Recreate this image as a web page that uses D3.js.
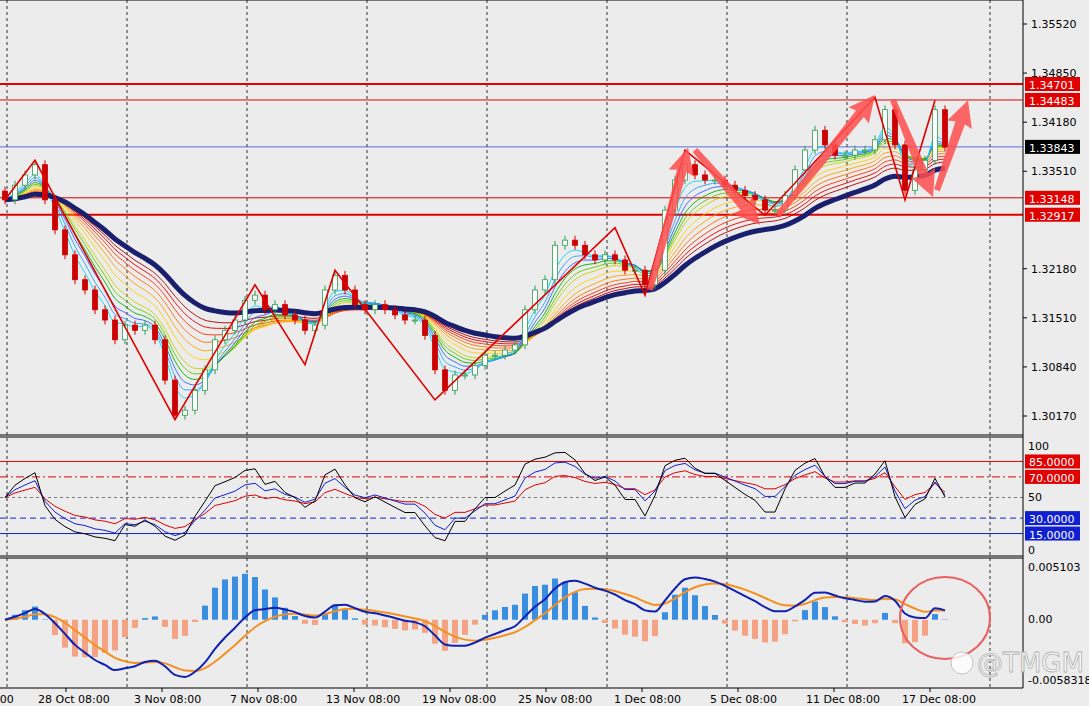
<!DOCTYPE html>
<html>
<head>
<meta charset="utf-8">
<script src="https://cdn.jsdelivr.net/npm/d3@7"></script>
<style>
  body { margin: 0; background: #ececec; }
  svg { display: block; font-family: "DejaVu Sans", sans-serif; }
</style>
</head>
<body>
<div class="container"></div>
<script>
// closing prices, one per bar
const closes = [
  1.3312, 1.3332, 1.3346, 1.3360, 1.3312, 1.3271, 1.3237, 1.3203, 1.3189, 1.3162,
  1.3148, 1.3121, 1.3141, 1.3134, 1.3141, 1.3121, 1.3066, 1.3018, 1.3025, 1.3052,
  1.3080, 1.3121, 1.3134, 1.3148, 1.3175, 1.3182, 1.3162, 1.3169, 1.3155, 1.3148,
  1.3134, 1.3141, 1.3189, 1.3209, 1.3189, 1.3169, 1.3162, 1.3169, 1.3162, 1.3155,
  1.3148, 1.3148, 1.3127, 1.3080, 1.3052, 1.3073, 1.3073, 1.3086, 1.3100, 1.3100,
  1.3107, 1.3114, 1.3162, 1.3189, 1.3203, 1.3250, 1.3257, 1.3250, 1.3237, 1.3230,
  1.3237, 1.3230, 1.3216, 1.3216, 1.3196, 1.3216, 1.3298, 1.3339, 1.3360, 1.3346,
  1.3339, 1.3339, 1.3332, 1.3325, 1.3318, 1.3312, 1.3298, 1.3298, 1.3318, 1.3353,
  1.3380, 1.3407, 1.3387, 1.3373, 1.3373, 1.3380, 1.3380, 1.3394, 1.3435, 1.3387,
  1.3325, 1.3353, 1.3366, 1.3435, 1.3384
];
const priceTicks = [1.35520, 1.34850, 1.34180, 1.33510, 1.32180, 1.31510, 1.30840, 1.30170];
const levels = [
  { v: 1.34701, w: 2, c: "#e00000", box: "#e00000" },
  { v: 1.34483, w: 1, c: "#e00000", box: "#e00000" },
  { v: 1.33843, w: 0.8, c: "#3050e0", box: "#000000" },
  { v: 1.33148, w: 1, c: "#e00000", box: "#e00000" },
  { v: 1.32917, w: 2, c: "#e00000", box: "#e00000" }
];
const zigzag = [[0,1.3312],[3,1.3366],[17,1.3012],[25,1.3196],[30,1.3087],[33,1.3216],[43,1.3039],
  [61,1.3274],[64,1.3182],[68,1.3380],[76,1.3291],[87,1.3452],[90,1.3312],[93,1.3448]];
const arrows = [[64.5,1.3189,68.3,1.3383],[69,1.3380,75.5,1.3278],[77.3,1.3291,87,1.3455],
  [88.8,1.3448,92.8,1.3316],[93.2,1.3325,96.3,1.3448]];
const gridBars = [0.2, 12.2, 24.2, 36.2, 48.2, 60.2, 72.2, 84.2, 98.5];
const timeBars = [-6.5, 3.1, 12.7, 22.3, 31.9, 41.5, 51.1, 60.7, 70.3, 79.9, 89.5];
const timeLabels = ["22 Oct 08:00","28 Oct 08:00","3 Nov 08:00","7 Nov 08:00","13 Nov 08:00","19 Nov 08:00",
  "25 Nov 08:00","1 Dec 08:00","5 Dec 08:00","11 Dec 08:00","17 Dec 08:00"];
const ribbonPeriods = [3, 4, 5, 6, 7, 8, 10, 12, 14, 16, 18, 20];
const ribbonColors = ["#00d8ff","#20a0ff","#3060ff","#00b000","#60c800","#c8d000","#ffd000","#ffa000","#ff7000","#ff3000","#e00000","#b00000"];
const rsiLevels = [{v:85,c:"#e00000",d:null},{v:70,c:"#e00000",d:"8,3,2,3"},{v:50,c:"#777",d:"3,3"},{v:30,c:"#1020d0",d:"6,4"},{v:15,c:"#1020d0",d:null}];

const W = 1089, H = 706, axisX = 1023;
const svg = d3.select(".container").append("svg").attr("width", W).attr("height", H);
svg.append("rect").attr("width", W).attr("height", H).attr("fill", "#ececec");

const x = d3.scaleLinear().domain([0, 101.8]).range([5, axisX]);
const y = d3.scaleLinear().domain([1.30170, 1.35520]).range([416, 24]);
const yR = d3.scaleLinear().domain([0, 100]).range([549, 446]);
const yM = d3.scaleLinear().domain([-0.005831, 0.005103]).range([680, 567]);

const ema = (arr, n) => { const k = 2 / (n + 1); let e = arr[0]; return arr.map(v => (e = v * k + e * (1 - k))); };
const rsi = (arr, n) => {
  let g = 0.0008, l = 0.0008;
  return arr.map((v, i) => {
    if (i === 0) return 50;
    const d = v - arr[i - 1];
    g = (g * (n - 1) + Math.max(d, 0)) / n;
    l = (l * (n - 1) + Math.max(-d, 0)) / n;
    return l === 0 ? 100 : 100 - 100 / (1 + g / l);
  });
};

[["main",0,435],["rsi",437,556],["macd",558,688]].forEach(([id,t,b]) => {
  svg.append("clipPath").attr("id","clip-"+id).append("rect").attr("x",0).attr("y",t).attr("width",axisX).attr("height",b-t);
});

// grid
gridBars.forEach(b => {
  svg.append("line").attr("x1",x(b)).attr("x2",x(b)).attr("y1",0).attr("y2",688)
    .attr("stroke","#000").attr("stroke-dasharray","3,3").attr("stroke-width",0.8);
});

const main = svg.append("g").attr("clip-path","url(#clip-main)");
levels.forEach(l => main.append("line").attr("x1",0).attr("x2",axisX).attr("y1",y(l.v)).attr("y2",y(l.v))
  .attr("stroke",l.c).attr("stroke-width",l.w));

// ribbon
const line = d3.line().x((d,i) => x(i)).y(d => y(d)).curve(d3.curveMonotoneX);
ribbonPeriods.slice().reverse().forEach((p, j) => {
  main.append("path").attr("d", line(ema(closes, p))).attr("fill","none")
    .attr("stroke", ribbonColors[ribbonPeriods.length - 1 - j]).attr("stroke-width",0.9);
});
main.append("path").attr("d", line(ema(closes, 24))).attr("fill","none").attr("stroke","#1a1f6e").attr("stroke-width",5);

// candles
closes.forEach((c, i) => {
  const o = i === 0 ? c + 0.0012 : closes[i - 1];
  const up = c >= o, hi = Math.max(o, c) + 0.0006, lo = Math.min(o, c) - 0.0006;
  const col = up ? "#2e9a50" : "#cc0000";
  main.append("line").attr("x1",x(i)).attr("x2",x(i)).attr("y1",y(hi)).attr("y2",y(lo)).attr("stroke",col);
  main.append("rect").attr("x",x(i)-2.5).attr("width",5).attr("y",y(Math.max(o,c)))
    .attr("height",Math.max(1,y(Math.min(o,c))-y(Math.max(o,c))))
    .attr("fill",up ? "#ffffff" : "#cc0000").attr("stroke",col).attr("stroke-width",0.8);
});

main.append("path").attr("d", d3.line().x(d => x(d[0])).y(d => y(d[1]))(zigzag))
  .attr("fill","none").attr("stroke","#e00000").attr("stroke-width",1.6);

// fat arrows
arrows.forEach(a => {
  const x1 = x(a[0]), y1 = y(a[1]), x2 = x(a[2]), y2 = y(a[3]);
  const ang = Math.atan2(y2 - y1, x2 - x1), len = Math.hypot(x2 - x1, y2 - y1);
  const pts = [[0,-3],[len-24,-5],[len-26,-13],[len,0],[len-26,13],[len-24,5],[0,3]];
  main.append("polygon").attr("points", pts.map(p => p.join(",")).join(" "))
    .attr("transform",`translate(${x1},${y1}) rotate(${ang*180/Math.PI})`)
    .attr("fill","#ff4d4d").attr("opacity",0.85);
});

// price axis
priceTicks.forEach(v => {
  svg.append("line").attr("x1",axisX).attr("x2",axisX+4).attr("y1",y(v)).attr("y2",y(v)).attr("stroke","#000");
  svg.append("text").attr("x",axisX+8).attr("y",y(v)+4).attr("font-size",11).text(v.toFixed(5));
});
levels.forEach(l => {
  svg.append("rect").attr("x",axisX+2).attr("y",y(l.v)-7).attr("width",55).attr("height",14).attr("fill",l.box);
  svg.append("text").attr("x",axisX+6).attr("y",y(l.v)+5).attr("font-size",11).attr("fill","#fff").text(l.v.toFixed(5));
});

// RSI
const rg = svg.append("g").attr("clip-path","url(#clip-rsi)");
rsiLevels.forEach(l => rg.append("line").attr("x1",0).attr("x2",axisX).attr("y1",yR(l.v)).attr("y2",yR(l.v))
  .attr("stroke",l.c).attr("stroke-width",1).attr("stroke-dasharray",l.d));
const rLine = d3.line().x((d,i) => x(i)).y(d => yR(d));
[[14,"#e00000"],[8,"#1020d0"],[5,"#000"]].forEach(([n,c]) =>
  rg.append("path").attr("d", rLine(rsi(closes, n))).attr("fill","none").attr("stroke",c).attr("stroke-width",1));
[[100,446],[50,497],[0,550]].forEach(([t,yy]) => svg.append("text").attr("x",axisX+5).attr("y",yy+4).attr("font-size",11).text(t));
rsiLevels.filter(l => l.v !== 50).forEach(l => {
  svg.append("rect").attr("x",axisX+2).attr("y",yR(l.v)-7).attr("width",55).attr("height",14).attr("fill",l.c === "#e00000" ? "#e00000" : "#1020d0");
  svg.append("text").attr("x",axisX+6).attr("y",yR(l.v)+5).attr("font-size",11).attr("fill","#fff").text(l.v.toFixed(4));
});

// MACD (histogram drawn at 2.5x, like the OsMA overlay)
const mg = svg.append("g").attr("clip-path","url(#clip-macd)");
const fast = ema(closes, 6), slow = ema(closes, 13);
const macd = fast.map((f, i) => f - slow[i]);
const signal = ema(macd, 5);
const hist = macd.map((m, i) => (m - signal[i]) * 2.5);
hist.forEach((h, i) => mg.append("rect").attr("x",x(i)-3).attr("width",6)
  .attr("y",Math.min(yM(h),yM(0))).attr("height",Math.abs(yM(h)-yM(0)))
  .attr("fill",h >= 0 ? "#3a8ee0" : "#f4a484"));
const mLine = d3.line().x((d,i) => x(i)).y(d => yM(d)).curve(d3.curveMonotoneX);
mg.append("path").attr("d", mLine(signal)).attr("fill","none").attr("stroke","#f39020").attr("stroke-width",2);
mg.append("path").attr("d", mLine(macd)).attr("fill","none").attr("stroke","#1020b0").attr("stroke-width",2);
mg.append("ellipse").attr("cx",945).attr("cy",618).attr("rx",45).attr("ry",41).attr("fill","none").attr("stroke","#e86060").attr("stroke-width",2);
[["0.005103",567],["0.00",619],["-0.0058318",680]].forEach(([t,yy]) => svg.append("text").attr("x",axisX+5).attr("y",yy+4).attr("font-size",11).text(t));

// frames
[[0,435],[437,556],[558,688]].forEach(([t,b]) => {
  svg.append("line").attr("x1",0).attr("x2",axisX).attr("y1",t).attr("y2",t).attr("stroke","#000");
  svg.append("line").attr("x1",0).attr("x2",axisX).attr("y1",b).attr("y2",b).attr("stroke","#000");
});
svg.append("line").attr("x1",axisX).attr("x2",axisX).attr("y1",0).attr("y2",688).attr("stroke","#000");

// time axis
timeBars.forEach((b, i) => {
  svg.append("line").attr("x1",x(b)+30).attr("x2",x(b)+30).attr("y1",688).attr("y2",692).attr("stroke","#000");
  svg.append("text").attr("x",x(b)+2).attr("y",703).attr("font-size",11).text(timeLabels[i]);
});

// watermark
svg.append("circle").attr("cx",962).attr("cy",663).attr("r",11).attr("fill","#fff").attr("opacity",0.8).attr("stroke","#bbb");
svg.append("text").attr("x",977).attr("y",672).attr("font-size",26).attr("fill","#fff").attr("stroke","#aaa")
  .attr("stroke-width",0.8).attr("opacity",0.9).text("@TMGM");
</script>
</body>
</html>
